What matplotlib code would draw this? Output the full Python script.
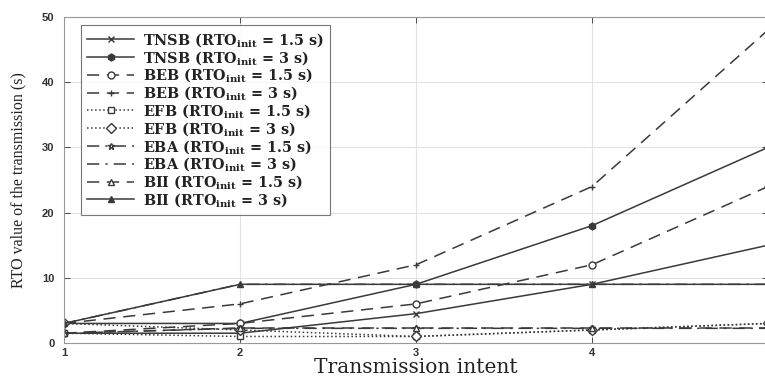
import matplotlib
matplotlib.use("Agg")
import matplotlib.pyplot as plt

x = [1, 2, 3, 4, 5]
tnsb_15 = [1.5, 1.5, 4.5, 9, 15]
tnsb_3 = [3, 3, 9, 18, 30]
beb_15 = [1.5, 3, 6, 12, 24]
beb_3 = [3, 6, 12, 24, 48]
efb_15 = [1.5, 1, 1, 2, 3]
efb_3 = [3, 2, 1, 2, 3]
eba_15 = [1.5, 2.25, 2.25, 2.25, 2.25]
eba_3 = [3, 9, 9, 9, 9]
bii_15 = [1.5, 2.3, 2.3, 2.3, 2.3]
bii_3 = [3, 9, 9, 9, 9]

labels = [
    r"TNSB (RTO$_{\mathregular{init}}$ = 1.5 s)",
    r"TNSB (RTO$_{\mathregular{init}}$ = 3 s)",
    r"BEB (RTO$_{\mathregular{init}}$ = 1.5 s)",
    r"BEB (RTO$_{\mathregular{init}}$ = 3 s)",
    r"EFB (RTO$_{\mathregular{init}}$ = 1.5 s)",
    r"EFB (RTO$_{\mathregular{init}}$ = 3 s)",
    r"EBA (RTO$_{\mathregular{init}}$ = 1.5 s)",
    r"EBA (RTO$_{\mathregular{init}}$ = 3 s)",
    r"BII (RTO$_{\mathregular{init}}$ = 1.5 s)",
    r"BII (RTO$_{\mathregular{init}}$ = 3 s)",
]

plt.rcParams['font.family'] = ['Liberation Serif', 'DejaVu Serif']
plt.rcParams['mathtext.fontset'] = 'custom'
plt.rcParams['mathtext.rm'] = 'DejaVu Serif'
plt.rcParams['mathtext.it'] = 'DejaVu Serif:italic'
plt.rcParams['mathtext.bf'] = 'DejaVu Serif:bold'

fig = plt.figure(figsize=(7.65, 3.76), dpi=100)
ax = fig.add_axes([64/765, 33/376, 704/765, 326/376])

c = '#3a3a3a'
lw = 1.1
ms = 5
series = [
    (tnsb_15, '-', 'x', 'none'),
    (tnsb_3, '-', 'h', c),
    (beb_15, (0, (8, 5)), 'o', 'white'),
    (beb_3, (0, (8, 5)), '+', 'none'),
    (efb_15, ':', 's', 'white'),
    (efb_3, ':', 'D', 'white'),
    (eba_15, (0, (8, 4, 1.5, 4)), '*', 'white'),
    (eba_3, (0, (8, 4, 1.5, 4)), None, 'none'),
    (bii_15, (0, (8, 5)), '^', 'white'),
    (bii_3, '-', '^', c),
]
for (vals, ls, mk, mfc), lab in zip(series, labels):
    ax.plot(x, vals, linestyle=ls, marker=mk, color=c, lw=lw, ms=ms,
            mfc=mfc, mec=c, mew=1.0, label=lab)

ax.set_xlim(1, 5)
ax.set_ylim(0, 50)
ax.set_xticks([1, 2, 3, 4, 5])
ax.set_yticks([0, 10, 20, 30, 40, 50])
ax.grid(True, color='#e2e2e2', lw=0.8)
ax.set_axisbelow(True)
ax.tick_params(direction='in', length=4, top=True, right=True,
               labelsize=8, colors='#333333', width=0.6)
ax.tick_params(axis='y', pad=7)
for t in ax.get_xticklabels() + ax.get_yticklabels():
    t.set_family('Liberation Sans')
    t.set_fontweight('bold')
for s in ax.spines.values():
    s.set_color('#999999')
    s.set_linewidth(0.8)

ax.set_xlabel('Transmission intent', fontsize=14.5, labelpad=0, color='#222222',
              family='DejaVu Serif')
ax.set_ylabel('RTO value of the transmission (s)', fontsize=11.5, labelpad=11,
              color='#222222')

leg = ax.legend(loc='upper left', bbox_to_anchor=(0.024, 0.975),
                prop={'family': 'DejaVu Serif', 'weight': 'bold', 'size': 10.4},
                handlelength=3.3, labelspacing=0.0, borderpad=0.4,
                borderaxespad=0, handletextpad=0.6, frameon=True, fancybox=False)
leg.get_frame().set_edgecolor('#555555')
leg.get_frame().set_linewidth(0.8)
for t in leg.get_texts():
    t.set_color('#222222')

fig.savefig('out.png', dpi=100)
